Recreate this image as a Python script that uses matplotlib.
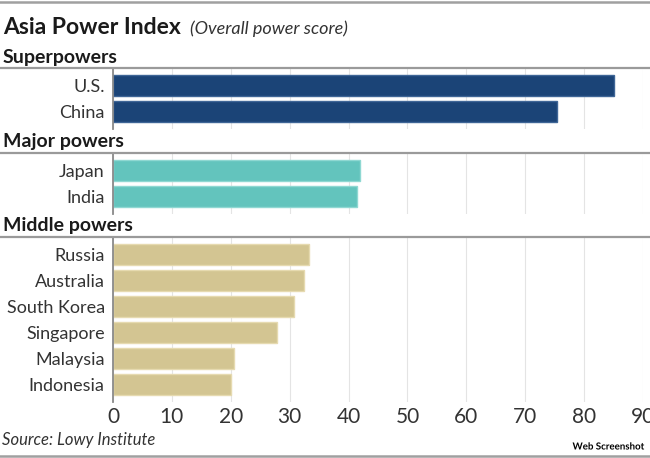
import matplotlib
matplotlib.use("Agg")
import matplotlib.pyplot as plt
from matplotlib.lines import Line2D
import matplotlib.patheffects as pe

plt.rcParams["font.family"] = ["Lato", "DejaVu Sans"]

# ---- data ----
sections = ["Superpowers", "Major powers", "Middle powers"]
super_names = ["U.S.", "China"]
super_values = [85.0, 75.4]
major_names = ["Japan", "India"]
major_values = [42.0, 41.4]
middle_names = ["Russia", "Australia", "South Korea", "Singapore", "Malaysia", "Indonesia"]
middle_values = [33.2, 32.4, 30.7, 27.8, 20.5, 20.0]
x_ticks = [0, 10, 20, 30, 40, 50, 60, 70, 80, 90]

colors = ["#1b4477", "#63c4bd", "#d3c592"]
edges = ["#3f6697", "#8fd8d2", "#e6dab0"]

W, H = 650, 458
ROW = 26.0
PAD = 0.67


def px_axes(left, top, right, bottom):
    return [left / W, 1 - bottom / H, (right - left) / W, (bottom - top) / H]


def hline(fig, y, color="#9a9a9a", lw=1.6):
    fig.add_artist(Line2D([0, 1], [1 - y / H, 1 - y / H], transform=fig.transFigure,
                          color=color, lw=lw))


fig = plt.figure(figsize=(W / 100, H / 100), dpi=100)

hline(fig, 2, "#a0a0a0", 1.8)
hline(fig, 456, "#a0a0a0", 1.8)

fig.text(3 / W, 1 - 28 / H, "Asia Power Index", fontsize=16.5, fontweight="bold",
         color="#1a1a1a", va="center", ha="left")
fig.text(190 / W, 1 - 29 / H, "(Overall power score)", fontsize=13, style="italic",
         color="#333333", va="center", ha="left")

groups = [
    (super_names, super_values, 68, 57),
    (major_names, major_values, 153, 141),
    (middle_names, middle_values, 237, 226),
]

left_px, right_px = 113, 643
for i, (names, vals, top, head_y) in enumerate(groups):
    n = len(names)
    bottom = top + ((n - 1) + 2 * PAD) * ROW
    fig.text(3 / W, 1 - head_y / H, sections[i], fontsize=14, fontweight="bold",
             color="#1a1a1a", va="center", ha="left")
    hline(fig, top)

    ax = fig.add_axes(px_axes(left_px, top, right_px, bottom))
    ypos = list(range(n))
    ax.barh(ypos, vals, height=0.8, color=colors[i], edgecolor=edges[i],
            linewidth=1.0, zorder=3)
    ax.set_xlim(0, 90)
    ax.set_ylim(n - 1 + PAD, -PAD)
    ax.set_yticks(ypos)
    ax.set_yticklabels(names, fontsize=13, color="#333333")
    ax.set_xticks(x_ticks)
    ax.grid(axis="x", color="#e4e4e4", lw=0.8, zorder=0)
    ax.tick_params(axis="y", length=0, pad=6)
    ax.tick_params(axis="x", length=0, pad=4, labelsize=15, labelcolor="#333333")
    if i < 2:
        ax.tick_params(axis="x", labelbottom=False)
    for s in ["top", "right", "bottom"]:
        ax.spines[s].set_visible(False)
    ax.spines["left"].set_color("#8a8a8a")
    ax.spines["left"].set_linewidth(1.3)
    ax.spines["left"].set_zorder(4)

fig.text(2 / W, 1 - 440 / H, "Source: Lowy Institute", fontsize=12, style="italic",
         color="#333333", va="center", ha="left")

wm = fig.text(645 / W, 1 - 447 / H, "Web Screenshot", fontsize=7, fontweight="bold",
              color="black", va="center", ha="right")
wm.set_path_effects([pe.withStroke(linewidth=2, foreground="white")])

fig.savefig("out.png", dpi=100)
